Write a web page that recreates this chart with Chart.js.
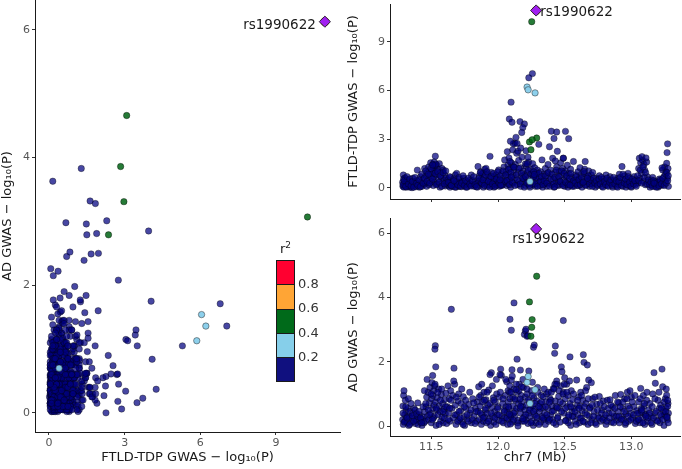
<!DOCTYPE html>
<html><head><meta charset="utf-8">
<script src="https://cdn.jsdelivr.net/npm/chart.js@4"></script>
<style>
html,body{margin:0;padding:0;background:#fff;}
body{width:682px;height:469px;overflow:hidden;position:relative;font-family:'DejaVu Sans',sans-serif;}
canvas{position:absolute;}
#c1{left:0;top:0;}
#c2{left:342px;top:0;}
#c3{left:342px;top:205px;}
#lgTitle{position:absolute;left:280px;top:242px;font-size:13px;line-height:14px;color:#1a1a1a;}
#lgTitle sup{font-size:9px;vertical-align:5px;line-height:0;}
#lgBar{position:absolute;left:276px;top:260px;width:17px;border:1px solid #1a1a1a;}
#lgBar div{height:23.3px;border-top:1px solid #1a1a1a;}
#lgBar div:first-child{border-top:none;}
.lgLab{position:absolute;left:298px;font-size:13px;line-height:14px;color:#333;}
</style></head><body>
<canvas id="c1" width="342" height="469"></canvas>
<canvas id="c2" width="340" height="205"></canvas>
<canvas id="c3" width="340" height="264"></canvas>
<div id="lgTitle">r<sup>2</sup></div>
<div id="lgBar"></div>
<div id="lgLabels"></div>
<script>
// ---- data: each SNP is [position (Mb on chr7), FTLD-TDP -log10(P), AD -log10(P)] ----
const leadName = 'rs1990622';
const leadSnp = [12.286, 10.94, 6.13];

// r2 0.4-0.6
const greenSnps = [
  [12.253, 10.25, 3.07], [12.290, 3.08, 4.66], [12.236, 2.84, 3.86],
  [12.256, 2.97, 3.31], [12.247, 2.36, 2.79]
];
// r2 0.2-0.4
const skySnps = [
  [12.218, 6.22, 1.36], [12.226, 6.05, 1.54], [12.278, 5.86, 1.13], [12.240, 0.40, 0.70]
];
// r2 < 0.2, notable (higher) SNPs
const peakSnps = [
  [12.258, 7.05, 1.36], [12.231, 6.79, 1.71], [12.098, 5.29, 1.05], [12.085, 4.25, 0.37],
  [12.105, 4.05, 1.75], [12.165, 4.09, 0.84], [12.198, 3.95, 2.85], [12.186, 3.72, 0.23],
  [12.178, 3.42, 1.22], [12.400, 3.50, 1.05], [12.440, 3.45, 1.30], [12.420, 3.05, 1.15],
  [12.506, 3.49, 0.16], [12.530, 3.04, 0.34], [12.135, 3.12, 1.13], [12.386, 2.54, 0.74],
  [12.445, 2.26, 0.57], [12.306, 2.69, 0.60], [12.115, 2.73, 0.18], [12.093, 2.88, 0.06],
  [13.272, 2.72, 0.61], [13.268, 2.18, 0.27], [13.080, 1.93, 0.50], [13.110, 1.85, 0.30],
  [12.150, 2.26, 0.00], [12.170, 2.46, 0.61], [12.143, 2.75, 2.08],
  [11.650, 0.15, 3.63], [12.120, 1.28, 3.83], [12.090, 1.63, 3.32], [12.490, 1.84, 3.28],
  [12.100, 0.67, 2.98], [12.205, 1.48, 2.96], [12.210, 2.29, 3.01], [12.218, 1.50, 2.79],
  [12.225, 1.89, 2.81], [11.530, 1.96, 2.50], [11.527, 1.39, 2.39], [12.266, 0.70, 2.45],
  [12.272, 0.83, 2.52], [12.430, 1.67, 2.49], [12.425, 0.07, 2.26], [12.540, 0.17, 2.15],
  [12.640, 0.36, 2.22], [12.645, 1.02, 1.98], [12.670, 0.60, 1.90], [11.670, 0.44, 1.80],
  [11.533, 1.47, 1.84], [11.510, 1.42, 1.57], [11.940, 1.95, 1.60], [12.020, 0.17, 1.77],
  [12.015, 0.50, 1.60], [13.230, 1.24, 1.77], [13.170, 0.30, 1.66]
];
// r2 < 0.2, background SNPs
const bulkSnps = [
  [11.285,0.35,0.20],[11.287,0.10,0.62],[11.29,0.80,0.05],[11.292,0.55,0.95],[11.295,0.05,1.10],
  [11.30,0.25,0.35],[11.302,0.62,0.15],[11.305,0.15,0.80],[11.31,0.40,0.48],[11.315,0.05,0.28],
  [11.32,0.30,0.10],[11.325,0.48,0.55],[11.33,0.12,0.02],[11.335,0.20,0.30],[11.34,0.05,0.45],
  [11.35,0.35,0.12],[11.355,0.02,0.25],[11.36,0.60,0.40],[11.37,0.15,0.55],[11.38,0.30,0.08],
  [11.385,0.08,0.18],[11.39,0.45,0.20],[11.395,1.10,0.30],[11.40,0.20,0.05],[11.41,0.05,0.35],
  [11.42,0.70,0.12],[11.425,0.35,0.22],[11.43,0.10,0.02],[11.44,0.55,0.28],[11.445,0.22,0.10],
  [11.45,1.20,0.45],[11.455,0.30,0.15],[11.46,0.75,0.60],[11.465,0.10,0.90],[11.47,0.95,0.30],
  [11.475,0.50,1.05],[11.48,1.30,0.20],[11.485,0.20,0.72],[11.49,0.85,1.20],[11.495,1.55,0.40],
  [11.50,0.60,0.10],[11.502,1.10,0.85],[11.505,0.40,1.35],[11.51,1.45,0.55],[11.512,0.90,0.95],
  [11.515,0.15,0.25],[11.518,1.25,1.10],[11.52,0.70,0.65],[11.522,1.60,0.30],[11.525,0.35,1.25],
  [11.53,1.05,0.75],[11.535,0.80,0.02],[11.54,1.40,0.50],[11.545,0.25,0.88],[11.55,1.15,0.35],
  [11.555,0.55,1.15],[11.56,1.50,0.62],[11.565,0.05,0.45],[11.57,0.95,0.15],[11.575,0.65,0.98],
  [11.58,1.20,0.28],[11.585,0.30,0.70],[11.59,1.10,0.10],[11.595,0.45,0.52],[11.60,0.80,0.82],
  [11.605,0.12,0.38],[11.61,0.60,1.02],[11.615,0.35,0.08],[11.62,0.20,0.60],
  [11.625,0.50,1.25],[11.63,0.15,0.40],[11.635,0.30,0.85],[11.64,0.05,0.15],[11.645,0.65,1.10],
  [11.655,0.25,0.55],[11.66,0.10,0.95],[11.665,0.45,0.25],[11.675,0.20,1.30],[11.68,0.80,0.65],
  [11.685,0.05,0.05],[11.69,0.90,0.35],[11.70,0.30,0.78],[11.705,0.12,1.00],[11.71,0.55,0.20],
  [11.72,0.35,0.48],[11.725,0.08,0.70],[11.73,0.40,0.12],[11.74,0.18,0.91],[11.745,0.60,0.30],
  [11.75,0.25,0.02],[11.76,0.05,0.55],[11.77,0.38,0.22],[11.78,0.15,0.68],[11.79,0.50,0.40],
  [11.80,0.80,0.10],[11.81,0.22,0.85],[11.82,0.10,0.30],[11.83,0.45,0.55],[11.84,0.30,0.15],
  [11.845,0.05,0.75],
  [11.85,1.32,0.45],[11.855,0.40,1.22],[11.86,0.75,0.20],[11.865,0.15,0.62],[11.87,1.00,0.95],
  [11.875,0.55,0.05],[11.88,0.25,0.35],[11.885,0.90,0.75],[11.89,0.05,0.15],[11.895,0.65,1.05],
  [11.90,1.15,0.28],[11.905,0.30,0.50],[11.91,1.21,0.82],[11.915,0.45,0.10],[11.92,0.10,0.40],
  [11.925,0.85,0.65],[11.93,0.20,1.12],[11.935,0.60,0.22],[11.945,0.35,0.02],[11.95,0.95,1.66],
  [11.955,0.12,0.58],[11.96,0.70,0.30],[11.965,0.40,0.88],[11.97,0.05,0.12],[11.975,0.55,0.45],
  [11.98,0.25,0.75],[11.985,0.80,0.05],[11.99,0.18,1.00],[11.995,0.65,0.35],[12.00,0.35,0.60],
  [12.005,1.11,0.18],[12.01,0.10,0.90],[12.025,0.45,1.58],[12.03,0.90,0.30],[12.035,0.20,0.70],
  [12.04,0.60,0.10],[12.045,1.30,0.50],
  [12.05,1.73,0.25],[12.055,0.35,0.95],[12.06,1.00,0.60],[12.065,0.15,1.38],[12.07,2.24,0.42],
  [12.072,0.65,0.05],[12.075,1.40,1.10],[12.078,0.25,0.75],[12.08,0.90,0.20],[12.082,1.85,0.55],
  [12.088,0.50,1.25],[12.09,1.20,0.85],[12.095,0.05,0.35],[12.10,1.55,1.43],[12.108,0.75,0.12],
  [12.11,2.35,0.90],[12.113,0.30,0.62],[12.12,1.10,1.15],[12.125,0.60,0.30],[12.128,2.76,0.45],
  [12.13,1.45,0.80],[12.14,2.14,0.55],[12.145,0.20,1.05],[12.15,0.95,0.18],[12.155,1.70,0.70],
  [12.16,0.40,1.30],[12.168,1.25,1.74],[12.17,0.10,0.40],[12.175,0.70,0.95],[12.18,1.90,0.15],
  [12.185,0.35,0.60],[12.19,1.05,1.20],[12.195,0.55,0.28],
  [12.20,0.80,0.50],[12.205,0.15,0.90],[12.21,1.35,0.20],[12.215,0.45,0.65],[12.22,0.95,1.00],
  [12.225,0.25,0.08],[12.23,1.60,0.40],[12.235,0.60,0.75],[12.24,0.05,0.30],[12.245,1.15,0.55],
  [12.25,0.35,1.10],[12.255,0.85,0.15],[12.26,1.50,0.62],[12.265,0.20,0.02],[12.27,0.70,0.88],
  [12.275,1.25,0.35],[12.28,0.10,0.52],[12.285,0.50,0.10],[12.29,0.90,0.78],[12.295,1.11,0.25],
  [12.30,0.30,1.05],[12.31,0.65,0.45],[12.315,0.15,0.70],[12.32,1.00,0.12],[12.325,0.40,0.95],
  [12.33,1.73,0.30],[12.335,0.05,0.58],[12.34,0.55,0.91],[12.345,0.85,0.20],
  [12.35,0.25,0.40],[12.355,1.20,0.05],[12.36,0.45,0.75],[12.365,0.10,1.00],[12.37,0.90,0.25],
  [12.375,1.45,0.55],[12.38,0.30,0.15],[12.39,0.70,0.85],[12.395,1.10,0.35],[12.405,0.20,0.62],
  [12.41,1.83,0.20],[12.415,0.55,1.17],[12.42,0.05,0.48],[12.43,0.95,0.78],[12.435,0.35,0.05],
  [12.44,1.30,1.40],[12.45,0.60,0.30],[12.455,0.15,0.92],[12.46,1.00,0.55],[12.465,0.40,0.12],
  [12.47,1.55,1.25],[12.475,0.80,1.84],[12.48,0.25,1.69],[12.485,1.20,0.70],[12.49,1.83,1.05],
  [12.495,0.50,0.40],[12.50,0.10,1.50],[12.505,1.05,0.85],[12.51,0.70,0.18],[12.515,0.30,1.30],
  [12.52,1.40,0.60],[12.525,0.05,0.95],[12.53,0.90,0.28],[12.54,0.45,0.70],[12.545,1.15,0.02],
  [12.55,0.20,1.10],[12.555,0.65,0.45],[12.56,0.35,0.82],[12.566,1.63,0.30],[12.57,0.10,0.55],
  [12.58,0.80,0.15],[12.59,0.50,1.43],[12.595,0.25,0.65],
  [12.60,1.00,0.35],[12.605,0.15,0.90],[12.61,0.60,0.10],[12.615,1.25,0.62],[12.62,0.30,1.05],
  [12.625,0.85,0.25],[12.63,0.05,0.48],[12.635,0.45,0.80],[12.65,1.15,0.12],[12.654,1.63,0.40],
  [12.66,0.20,0.70],[12.665,0.70,1.20],[12.675,0.40,0.05],[12.68,1.05,1.43],[12.685,0.10,0.30],
  [12.69,0.55,0.58],[12.70,0.80,1.35],[12.705,0.25,0.20],[12.71,0.95,0.85],[12.72,0.35,0.45],
  [12.73,0.05,0.10],[12.74,0.60,0.68],[12.75,0.20,0.30],[12.76,0.75,0.92],[12.77,0.40,0.15],
  [12.78,0.10,0.50],[12.79,0.55,0.78],[12.80,0.30,0.25],[12.81,0.80,0.05],[12.82,0.15,0.80],
  [12.83,0.45,0.40],[12.84,0.70,0.82],[12.85,0.25,0.12],[12.86,0.05,0.60],[12.87,0.50,0.30],
  [12.88,0.35,0.95],[12.89,0.10,0.18],
  [12.90,0.60,0.45],[12.905,0.20,0.72],[12.91,0.85,0.10],[12.92,0.35,0.98],[12.93,1.32,0.30],
  [12.935,0.10,0.55],[12.94,0.50,0.20],[12.95,0.75,0.85],[12.955,0.25,0.05],[12.96,0.05,0.38],
  [12.97,0.45,1.05],[12.975,0.90,0.62],[12.98,0.15,0.15],[12.99,0.60,1.10],[12.995,0.30,0.40],
  [13.00,0.05,0.90],[13.01,0.40,0.25],[13.02,0.70,0.60],[13.03,0.20,0.08],[13.04,0.50,0.48],
  [13.05,0.30,0.20],[13.055,1.20,0.75],[13.06,1.83,0.40],[13.065,0.60,0.10],[13.07,1.55,1.17],
  [13.075,0.90,0.55],[13.085,1.70,0.25],[13.09,0.40,0.95],[13.095,1.45,0.62],[13.10,1.10,0.05],
  [13.105,0.20,0.35],[13.115,1.60,0.80],[13.12,0.70,0.15],[13.13,0.35,0.50],[13.14,0.05,0.70],
  [13.15,0.50,0.30],[13.155,0.20,0.05],[13.16,0.65,1.00],[13.175,0.10,0.40],[13.18,0.40,1.33],
  [13.19,0.25,0.18],[13.20,0.05,0.80],[13.21,0.55,0.55],[13.215,0.30,0.10],[13.22,0.15,0.65],
  [13.225,0.45,0.30],[13.235,1.11,1.22],[13.24,0.20,0.45],[13.245,0.70,0.02],[13.25,1.30,0.35],
  [13.255,0.40,0.85],[13.26,1.00,0.55],[13.265,1.52,0.96],[13.27,0.60,0.20],[13.275,1.20,0.70],
  [13.278,0.10,0.40]
];
// r2 < 0.2, more background SNPs (dense low band)
const bulkSnps2 = [
  [11.288,0.20,0.40],[11.297,0.45,0.12],[11.308,0.08,0.60],[11.318,0.70,0.25],[11.328,0.25,0.85],
  [11.338,0.55,0.05],[11.348,0.12,0.70],[11.358,0.40,0.32],[11.368,0.05,0.15],[11.378,0.65,0.50],
  [11.388,0.28,0.38],[11.398,0.15,0.72],[11.408,0.50,0.45],[11.418,0.08,0.25],[11.428,0.85,0.10],
  [11.438,0.30,0.60],[11.448,0.60,1.10],[11.458,1.05,0.70],[11.468,0.40,1.45],[11.478,0.85,0.50],
  [11.488,0.30,0.35],[11.498,1.20,1.00],[11.508,0.55,0.20],[11.528,0.90,1.30],[11.538,0.20,0.55],
  [11.548,1.00,1.05],[11.558,0.35,0.05],[11.568,0.75,0.80],[11.578,0.10,1.15],[11.588,0.95,0.45],
  [11.598,0.25,0.25],[11.608,1.05,0.60],[11.628,0.35,0.20],[11.638,0.70,0.55],[11.648,0.15,0.80],
  [11.668,0.55,1.40],[11.678,0.05,0.35],[11.688,0.40,0.90],[11.698,0.20,0.15],[11.708,0.65,0.45],
  [11.718,0.10,0.25],[11.728,0.30,1.15],[11.738,0.75,0.05],[11.748,0.15,0.60],[11.758,0.45,0.80],
  [11.768,0.05,0.35],[11.778,0.60,0.15],[11.788,0.25,1.05],[11.798,0.12,0.50],[11.808,0.45,0.20],
  [11.818,0.70,0.72],[11.828,0.20,0.08],[11.838,0.08,0.45],[11.858,0.60,0.90],[11.868,0.95,0.40],
  [11.878,0.30,1.30],[11.888,0.50,0.25],[11.898,0.15,0.80],[11.908,0.80,0.55],[11.918,1.00,1.05],
  [11.928,0.40,0.15],[11.938,0.05,0.70],[11.948,0.70,0.40],[11.958,0.25,1.25],[11.968,0.90,0.80],
  [11.978,0.10,0.25],[11.988,0.55,1.45],[11.998,1.00,0.55],[12.008,0.30,0.35],[12.018,0.75,1.05],
  [12.028,0.15,0.15],[12.038,1.05,0.85],[12.048,0.40,0.45],[12.058,0.80,1.45],[12.068,0.45,0.25],
  [12.079,1.15,0.60],[12.087,0.20,1.05],[12.097,0.95,0.30],[12.107,0.35,1.55],[12.117,1.30,0.40],
  [12.127,0.15,0.85],[12.137,0.80,1.30],[12.147,0.50,0.10],[12.157,1.20,1.10],[12.167,0.25,0.55],
  [12.177,0.90,0.75],[12.187,0.60,1.45],[12.197,0.05,0.15],[12.207,0.70,0.35],[12.217,0.30,1.15],
  [12.227,1.10,0.80],[12.237,0.15,0.50],[12.247,0.85,0.10],[12.257,0.45,0.95],[12.267,1.00,0.45],
  [12.277,0.25,0.70],[12.287,0.65,0.30],[12.297,0.10,1.20],[12.307,0.90,0.05],[12.317,0.40,0.55],
  [12.327,0.70,0.75],[12.337,0.20,0.25],[12.347,0.45,1.15],[12.357,0.75,0.60],[12.367,0.30,0.35],
  [12.377,0.95,1.05],[12.387,0.10,0.20],[12.397,0.55,0.80],[12.407,0.85,0.45],[12.417,0.25,0.10],
  [12.427,0.65,1.30],[12.437,1.10,0.60],[12.447,0.20,0.25],[12.457,0.70,1.10],[12.467,0.40,0.75],
  [12.477,1.05,0.45],[12.487,0.15,1.00],[12.497,0.90,1.30],[12.507,0.35,0.55],[12.517,0.75,1.05],
  [12.527,0.20,0.10],[12.537,0.60,1.40],[12.547,0.90,0.60],[12.557,0.10,0.30],[12.567,0.45,1.00],
  [12.577,0.30,0.45],[12.587,0.70,0.05],[12.597,0.15,0.80],[12.607,0.50,0.55],[12.617,0.20,0.25],
  [12.627,0.65,0.95],[12.637,0.30,0.15],[12.647,0.90,0.60],[12.657,0.15,1.10],[12.667,0.45,0.35],
  [12.677,0.75,0.85],[12.687,0.25,0.55],[12.697,0.50,0.10],[12.707,0.10,0.65],[12.717,0.60,0.30],
  [12.727,0.30,0.90],[12.737,0.45,0.05],[12.747,0.15,0.50],[12.757,0.55,0.25],[12.767,0.25,0.70],
  [12.777,0.65,0.40],[12.787,0.05,0.20],[12.797,0.40,0.60],[12.807,0.20,0.35],[12.817,0.60,0.15],
  [12.827,0.10,0.55],[12.837,0.35,0.25],[12.847,0.50,0.65],[12.857,0.15,0.40],[12.867,0.65,0.10],
  [12.877,0.25,0.55],[12.887,0.45,0.30],[12.897,0.05,0.75],[12.907,0.40,0.30],[12.917,0.65,0.60],
  [12.927,0.15,0.20],[12.937,0.85,0.75],[12.947,0.30,0.45],[12.957,0.55,0.10],[12.967,0.20,0.85],
  [12.977,0.70,0.30],[12.987,0.35,0.55],[12.997,0.10,0.20],[13.007,0.55,0.75],[13.017,0.25,0.35],
  [13.027,0.45,0.95],[13.037,0.10,0.15],[13.047,0.75,0.40],[13.057,0.45,0.20],[13.067,1.10,0.85],
  [13.077,0.30,0.45],[13.087,1.30,0.10],[13.097,0.65,0.70],[13.107,0.95,0.35],[13.117,0.25,1.05],
  [13.127,0.50,0.25],[13.137,0.20,0.40],[13.147,0.35,0.10],[13.157,0.10,0.60],[13.167,0.45,0.25],
  [13.177,0.25,0.85],[13.187,0.05,0.45],[13.197,0.35,0.15],[13.207,0.15,1.05],[13.217,0.50,0.35],
  [13.227,0.25,0.55],[13.237,0.60,0.20],[13.247,0.15,0.75],[13.257,0.85,0.45],[13.262,0.30,1.15],
  [13.267,0.95,0.30],[13.273,0.45,0.80],[13.277,0.75,0.10]
];

// tick values & labels
const scatterXTicks = [0, 3, 6, 9];
const scatterXLabels = ['0', '3', '6', '9'];
const scatterYTicks = [0, 2, 4, 6];
const scatterYLabels = ['0', '2', '4', '6'];
const posTicks = [11.5, 12.0, 12.5, 13.0];
const posLabels = ['11.5', '12.0', '12.5', '13.0'];
const ftldTicks = [0, 3, 6, 9];
const ftldLabels = ['0', '3', '6', '9'];
const adTicks = [0, 2, 4, 6];
const adLabels = ['0', '2', '4', '6'];

// legend
const r2Colors = ['#FF0030', '#FFA535', '#006A1A', '#86CFEA', '#10107F'];
const r2Labels = ['0.8', '0.6', '0.4', '0.2'];

// ---- build legend ----
const bar = document.getElementById('lgBar');
r2Colors.forEach(c => { const d = document.createElement('div'); d.style.background = c; bar.appendChild(d); });
const labBox = document.getElementById('lgLabels');
r2Labels.forEach((t, i) => {
  const d = document.createElement('div'); d.className = 'lgLab'; d.textContent = t;
  d.style.top = (277 + i * 24.3) + 'px'; labBox.appendChild(d);
});

// ---- charts ----
Chart.defaults.font.family = "'DejaVu Sans', sans-serif";
Chart.defaults.animation = false;

function pts(arr, xi, yi) { return arr.map(r => ({ x: r[xi], y: r[yi] })); }

// Chart.js draws dataset 0 on top, so the lead SNP diamond comes first
function datasets(xi, yi) {
  const base = { clip: false, pointBorderWidth: 0.7 };
  return [
    Object.assign({}, base, { data: pts([leadSnp], xi, yi), pointRadius: 5.6, pointStyle: 'rectRot',
      backgroundColor: '#A020F0', borderColor: '#222', pointBorderWidth: 0.9 }),
    Object.assign({}, base, { data: pts([leadSnp], xi, yi), pointRadius: 4.2,
      backgroundColor: '#FF0020', borderColor: 'rgba(0,0,0,0.6)' }),
    Object.assign({}, base, { data: pts(greenSnps, xi, yi), pointRadius: 3.2,
      backgroundColor: 'rgba(0,100,20,0.85)', borderColor: 'rgba(0,0,0,0.55)' }),
    Object.assign({}, base, { data: pts(skySnps, xi, yi), pointRadius: 3.2,
      backgroundColor: 'rgba(135,206,235,0.95)', borderColor: 'rgba(40,40,40,0.7)' }),
    Object.assign({}, base, { data: pts(bulkSnps.concat(bulkSnps2, peakSnps), xi, yi), pointRadius: 3.2,
      backgroundColor: 'rgba(0,0,128,0.72)', borderColor: 'rgba(0,0,0,0.5)' })
  ];
}

function scale(o) {
  return {
    type: 'linear', min: o.min, max: o.max,
    afterBuildTicks: s => { s.ticks = o.ticks.map(v => ({ value: v })); },
    afterFit: s => {
      if (o.width != null) s.width = o.width;
      if (o.height != null) s.height = o.height;
      s.paddingTop = 0; s.paddingBottom = 0; s.paddingLeft = 0; s.paddingRight = 0;
    },
    grid: { display: true, drawOnChartArea: false, drawTicks: true, tickLength: 3, tickColor: '#333', tickWidth: 1 },
    border: { display: true, color: '#1a1a1a', width: 1 },
    ticks: { display: o.showLabels !== false, color: '#555', font: { size: 11 }, padding: 2,
      autoSkip: false, maxRotation: 0, callback: (v, i) => o.labels[i] },
    title: { display: !!o.title, text: o.title || '', color: '#1a1a1a', font: { size: 13 },
      padding: o.titlePad || { top: 4, bottom: 4 } }
  };
}

function labelPlugin(dx, dy, align) {
  return {
    id: 'leadLabel',
    afterDatasetsDraw(chart) {
      const p = chart.getDatasetMeta(0).data[0];
      const ctx = chart.ctx;
      ctx.save();
      ctx.font = "13.5px 'DejaVu Sans'";
      ctx.fillStyle = '#1a1a1a';
      ctx.textAlign = align;
      ctx.textBaseline = 'middle';
      ctx.fillText(leadName, p.x + dx, p.y + dy);
      ctx.restore();
    }
  };
}

function common(padding) {
  return {
    responsive: false, animation: false, devicePixelRatio: 1,
    layout: { padding, autoPadding: false },
    plugins: { legend: { display: false }, tooltip: { enabled: false } },
    events: []
  };
}

// left: FTLD vs AD
new Chart(document.getElementById('c1'), {
  type: 'scatter',
  data: { datasets: datasets(1, 2) },
  options: Object.assign(common({ left: 0, right: 2, top: 0, bottom: 0 }), {
    scales: {
      x: scale({ min: -0.555, max: 11.54, ticks: scatterXTicks, labels: scatterXLabels, height: 37,
        title: 'FTLD-TDP GWAS \u2212 log\u2081\u2080(P)' }),
      y: scale({ min: -0.30, max: 6.47, ticks: scatterYTicks, labels: scatterYLabels, width: 35,
        title: 'AD GWAS \u2212 log\u2081\u2080(P)', titlePad: { top: 0, bottom: 0 } })
    }
  }),
  plugins: [labelPlugin(-9, 4, 'right')]
});

// top right: position vs FTLD
new Chart(document.getElementById('c2'), {
  type: 'scatter',
  data: { datasets: datasets(0, 1) },
  options: Object.assign(common({ left: 0, right: 2, top: 4, bottom: 0 }), {
    scales: {
      x: scale({ min: 11.19, max: 13.365, ticks: posTicks, labels: posLabels, height: 6, showLabels: false }),
      y: scale({ min: -0.68, max: 11.34, ticks: ftldTicks, labels: ftldLabels, width: 48,
        title: 'FTLD-TDP GWAS \u2212 log\u2081\u2080(P)' })
    }
  }),
  plugins: [labelPlugin(4, 2, 'left')]
});

// bottom right: position vs AD
new Chart(document.getElementById('c3'), {
  type: 'scatter',
  data: { datasets: datasets(0, 2) },
  options: Object.assign(common({ left: 0, right: 2, top: 13, bottom: 0 }), {
    scales: {
      x: scale({ min: 11.19, max: 13.365, ticks: posTicks, labels: posLabels, height: 33,
        title: 'chr7 (Mb)' }),
      y: scale({ min: -0.31, max: 6.47, ticks: adTicks, labels: adLabels, width: 48,
        title: 'AD GWAS \u2212 log\u2081\u2080(P)' })
    }
  }),
  plugins: [labelPlugin(12.5, 11, 'center')]
});
</script>
</body></html>
